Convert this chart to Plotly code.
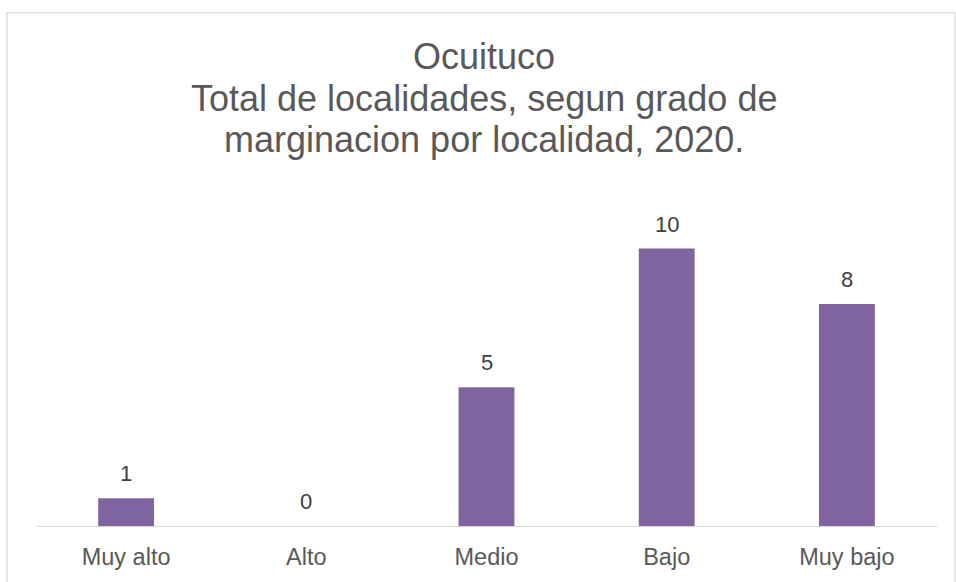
import plotly.graph_objects as go

categories = ["Muy alto", "Alto", "Medio", "Bajo", "Muy bajo"]
values = [1, 0, 5, 10, 8]
title_lines = ["Ocuituco", "Total de localidades, segun grado de", "marginacion por localidad, 2020."]

W, H = 956, 582
L, R, T, B = 36, 19, 193, 54
pw, ph = W - L - R, H - T - B
FONT = "Liberation Sans, Arial"

def py2paper(py):
    return (H - B - py) / ph

def px2paper(px):
    return (px - L) / pw

fig = go.Figure(go.Bar(
    x=categories, y=values,
    marker=dict(color="#8064A2", line=dict(width=0)),
    width=0.31,
    hoverinfo="x+y",
))

for c, v in zip(categories, values):
    fig.add_annotation(x=c, y=v, xref="x", yref="y", text=str(v), showarrow=False,
                       yanchor="bottom", yshift=10,
                       font=dict(size=22, color="#404040", family=FONT))

# title lines (baselines at 68, 110, 152 px)
for i, line in enumerate(title_lines):
    center = 68 + 42 * i - 12.5
    fig.add_annotation(x=px2paper(484), y=py2paper(center), xref="paper", yref="paper",
                       text=line, showarrow=False, xanchor="center", yanchor="middle",
                       font=dict(size=36, color="#595959", family=FONT))

# chart border
fig.add_shape(type="rect", xref="paper", yref="paper",
              x0=px2paper(7), x1=px2paper(955),
              y0=py2paper(600), y1=py2paper(11.5),
              line=dict(color="#D9D9D9", width=1.3), fillcolor="rgba(0,0,0,0)", layer="below")

fig.update_layout(
    width=W, height=H,
    margin=dict(l=L, r=R, t=T, b=B, pad=0),
    paper_bgcolor="white", plot_bgcolor="white",
    showlegend=False,
    xaxis=dict(showline=True, linecolor="#D9D9D9", linewidth=1.3, ticks="",
               showgrid=False, tickfont=dict(size=23.5, color="#595959", family=FONT),
               ticklabelstandoff=10),
    yaxis=dict(range=[0, 12], visible=False, showgrid=False, zeroline=False),
    font=dict(family=FONT),
)

fig.write_html("out.html", config={"displayModeBar": False},
               post_script="document.body.style.margin='0';document.body.style.overflow='hidden';")
